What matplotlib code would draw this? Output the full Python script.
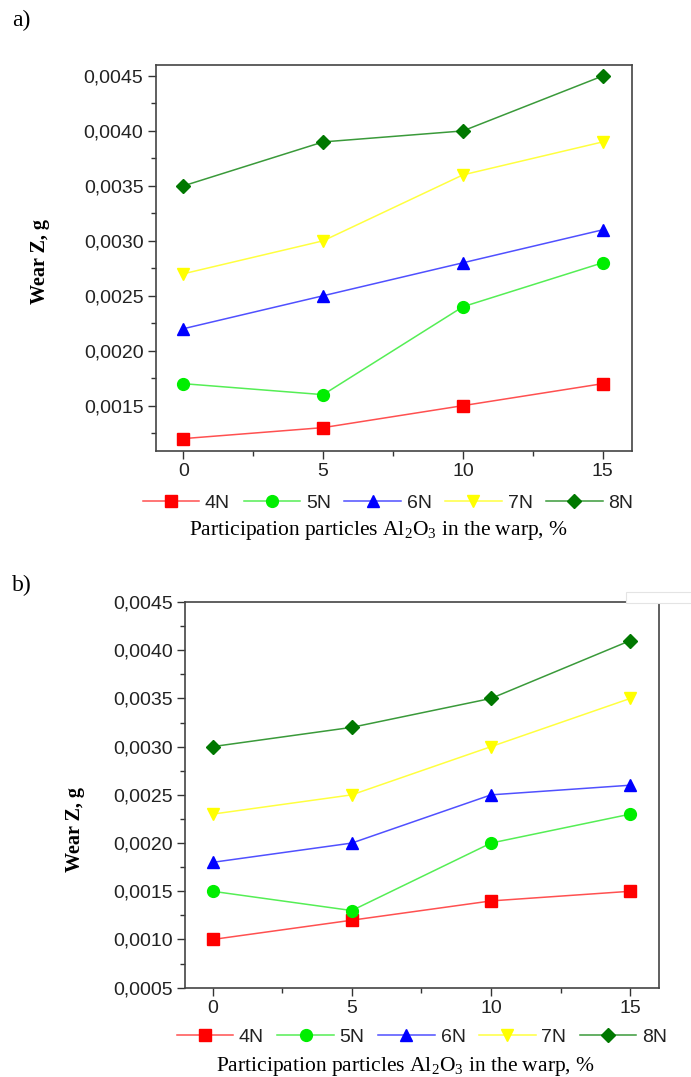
import numpy as np
import matplotlib
matplotlib.use("Agg")
from matplotlib import pyplot as plt
from matplotlib.ticker import FuncFormatter, MultipleLocator
from matplotlib.patches import Rectangle

plt.rcParams['font.family'] = ['Liberation Sans', 'DejaVu Sans']
plt.rcParams['mathtext.fontset'] = 'custom'
plt.rcParams['mathtext.rm'] = 'Liberation Serif'

# data
x_pct = [0, 5, 10, 15]
loads = ['4N', '5N', '6N', '7N', '8N']

wear_a_4N = [0.0012, 0.0013, 0.0015, 0.0017]
wear_a_5N = [0.0017, 0.0016, 0.0024, 0.0028]
wear_a_6N = [0.0022, 0.0025, 0.0028, 0.0031]
wear_a_7N = [0.0027, 0.0030, 0.0036, 0.0039]
wear_a_8N = [0.0035, 0.0039, 0.0040, 0.0045]

wear_b_4N = [0.0010, 0.0012, 0.0014, 0.0015]
wear_b_5N = [0.0015, 0.0013, 0.0020, 0.0023]
wear_b_6N = [0.0018, 0.0020, 0.0025, 0.0026]
wear_b_7N = [0.0023, 0.0025, 0.0030, 0.0035]
wear_b_8N = [0.0030, 0.0032, 0.0035, 0.0041]

# (marker, marker colour, line colour, marker size)
styles = [
    ('s', '#ff0000', '#ff5050', 8),
    ('o', '#00ee00', '#55ee55', 8.5),
    ('^', '#0000ff', '#5050ff', 9),
    ('v', '#ffff00', '#ffff40', 9),
    ('D', '#007800', '#3a9a3a', 7.5),
]

W, H = 691, 1077
fig = plt.figure(figsize=(W / 100, H / 100), dpi=100)


def fx(px):
    return px / W


def fy(py):
    return 1 - py / H


def comma_fmt(v, pos):
    return f"{v:.4f}".replace('.', ',')


def draw_panel(ax, series, ylim, xlim, major_y):
    for (mk, mc, lc, ms), y, name in zip(styles, series, loads):
        ax.plot(x_pct, y, color=lc, lw=1.1, marker=mk, ms=ms,
                markerfacecolor=mc, markeredgecolor=mc, label=name)
    ax.set_xlim(*xlim)
    ax.set_ylim(*ylim)
    ax.xaxis.set_major_locator(MultipleLocator(5))
    ax.xaxis.set_minor_locator(MultipleLocator(2.5))
    ax.yaxis.set_major_locator(MultipleLocator(major_y))
    ax.yaxis.set_minor_locator(MultipleLocator(major_y / 2))
    ax.yaxis.set_major_formatter(FuncFormatter(comma_fmt))
    ax.tick_params(which='major', length=6, width=1.0, color='#333333',
                   labelsize=14, pad=3, labelcolor='#222222')
    ax.tick_params(which='minor', length=3.5, width=1.0, color='#333333')
    for sp in ax.spines.values():
        sp.set_color('#444444')
        sp.set_linewidth(1.2)


# panel a
ax1 = fig.add_axes([fx(156), fy(450.7), fx(632) - fx(156), fy(65) - fy(450.7)])
draw_panel(ax1, [wear_a_4N, wear_a_5N, wear_a_6N, wear_a_7N, wear_a_8N],
           (0.00109, 0.0046), (-0.98, 16.05), 0.0005)

# panel b
ax2 = fig.add_axes([fx(185), fy(987.7), fx(658.7) - fx(185), fy(602) - fy(987.7)])
draw_panel(ax2, [wear_b_4N, wear_b_5N, wear_b_6N, wear_b_7N, wear_b_8N],
           (0.0005, 0.0045), (-0.99, 16.02), 0.0005)

xlab = 'Participation particles Al$\\mathrm{_2}$O$\\mathrm{_3}$ in the warp, %'
serif = ['Liberation Serif', 'DejaVu Serif']

for ax, leg_y, xl_y, yl_x, yl_y, shift in [(ax1, 503, 531, 40, 262, -6),
                                           (ax2, 1037, 1066, 75, 830, 0)]:
    h, l = ax.get_legend_handles_labels()
    cx = (ax.get_position().x0 + ax.get_position().x1) / 2
    fig.legend(h, l, loc='center', bbox_to_anchor=(cx + fx(shift), fy(leg_y)), ncol=5,
               frameon=False, fontsize=14, handlelength=2.9,
               handletextpad=0.3, columnspacing=0.7, borderpad=0,
               labelcolor='#222222')
    fig.text(cx - fx(16), fy(xl_y), xlab, ha='center', va='center', fontsize=15.5,
             family=serif)
    fig.text(fx(yl_x), fy(yl_y), 'Wear Z, g', ha='center', va='center',
             rotation=90, fontsize=14.5, family=serif, fontweight='bold')

fig.text(fx(12), fy(20), 'a)', ha='left', va='center', fontsize=17, family=serif)
fig.text(fx(12), fy(585), 'b)', ha='left', va='center', fontsize=17, family=serif)

# screenshot leftover in the top-right corner of panel b
fig.patches.append(Rectangle((fx(626), fy(603)), fx(691) - fx(626), fy(592) - fy(603),
                             transform=fig.transFigure, facecolor='white',
                             edgecolor='#e4e4e4', lw=0.8, zorder=5))

fig.savefig('out.png', dpi=100, facecolor='w')
